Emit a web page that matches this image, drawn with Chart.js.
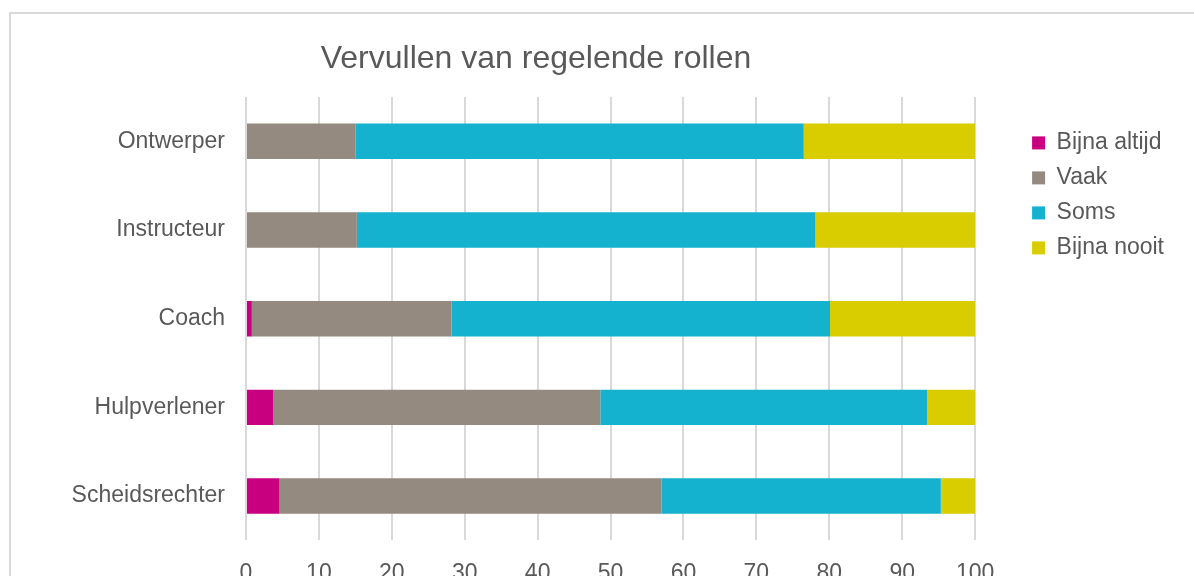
<!DOCTYPE html>
<html>
<head>
<meta charset="utf-8">
<script src="https://cdn.jsdelivr.net/npm/chart.js@4/dist/chart.umd.min.js"></script>
<style>
  html, body { margin: 0; padding: 0; background: #fff; overflow: hidden; }
  #wrap { width: 1194px; height: 623px; }
</style>
</head>
<body>
<div id="wrap"><canvas id="barChart" width="1194" height="623"></canvas></div>
<script>
const chartTitle = 'Vervullen van regelende rollen'
const categories = ['Ontwerper', 'Instructeur', 'Coach', 'Hulpverlener', 'Scheidsrechter']
const seriesNames = ['Bijna altijd', 'Vaak', 'Soms', 'Bijna nooit']
const bijnaAltijd = [0, 0, 0.8, 3.7, 4.6]
const vaak = [15.0, 15.2, 27.4, 44.9, 52.4]
const soms = [61.5, 62.9, 51.9, 44.8, 38.3]
const bijnaNooit = [23.5, 21.9, 19.9, 6.6, 4.7]
const xTicks = [0, 10, 20, 30, 40, 50, 60, 70, 80, 90, 100]

const textColor = '#595959'
const gridColor = '#d9d9d9'
Chart.defaults.font.family = '"Liberation Sans", Arial, sans-serif'
Chart.defaults.color = textColor

const ctx = document.getElementById('barChart').getContext('2d');

// frame + title drawn like the office chart
const frameAndTitle = {
	id: 'frameAndTitle',
	beforeDraw(chart) {
		const c = chart.ctx
		c.save()
		c.strokeStyle = gridColor
		c.lineWidth = 2
		c.strokeRect(10, 13, 1300, 700)
		c.restore()
	},
	afterDraw(chart) {
		const c = chart.ctx
		c.save()
		c.fillStyle = textColor
		c.font = '32px "Liberation Sans", Arial, sans-serif'
		c.textAlign = 'center'
		c.textBaseline = 'middle'
		c.fillText(chartTitle, 536, 59)
		c.restore()
	}
}

const chart = new Chart(ctx, {
	type: 'bar',
	data: {
		labels: categories,
		datasets: [
			{ label: seriesNames[0], data: bijnaAltijd, backgroundColor: '#c8007f' },
			{ label: seriesNames[1], data: vaak, backgroundColor: '#958a7f' },
			{ label: seriesNames[2], data: soms, backgroundColor: '#14b2cf' },
			{ label: seriesNames[3], data: bijnaNooit, backgroundColor: '#d9cd00' }
		]
	},
	options: {
		indexAxis: 'y',
		responsive: false,
		animation: false,
		layout: { padding: { top: 97, bottom: 17, left: 0, right: 20 } },
		datasets: { bar: { categoryPercentage: 0.8, barPercentage: 0.5 } },
		plugins: {
			legend: {
				position: 'right',
				align: 'start',
				title: { display: true, text: '', padding: 4 },
				labels: {
					boxWidth: 13,
					boxHeight: 13,
					padding: 12,
					color: textColor,
					font: { size: 23 }
				}
			},
			tooltip: { enabled: false }
		},
		scales: {
			x: {
				stacked: true,
				min: 0,
				max: 100,
				afterBuildTicks: axis => { axis.ticks = xTicks.map(v => ({ value: v })) },
				grid: { color: gridColor, lineWidth: 2, drawTicks: false },
				border: { display: false },
				ticks: { padding: 19, color: textColor, font: { size: 23 } }
			},
			y: {
				stacked: true,
				grid: { display: false },
				border: { display: false },
				ticks: { padding: 13, color: textColor, font: { size: 23 } },
				afterFit: scale => { scale.width = 246 }
			},
			y2: {
				type: 'linear',
				position: 'right',
				display: true,
				grid: { display: false },
				border: { display: false },
				ticks: { display: false },
				afterFit: scale => { scale.width = 45 }
			}
		}
	},
	plugins: [frameAndTitle]
});
</script>
</body>
</html>
